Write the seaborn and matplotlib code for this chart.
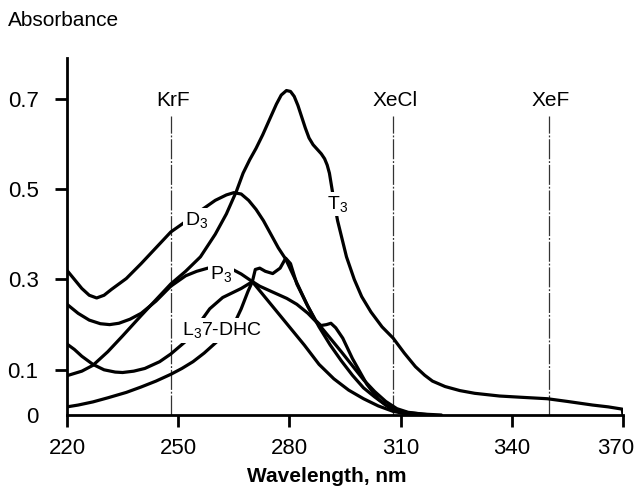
import matplotlib
matplotlib.use("Agg")
import matplotlib.pyplot as plt
import matplotlib.transforms as mtransforms
import seaborn as sns
import pandas as pd

# ---- data (wavelength nm, absorbance) ----
d3_nm = [220, 222, 224, 226, 228, 230, 232, 236, 240, 244, 248, 252, 256, 260, 263, 265, 267, 269, 271,
         273, 275, 277, 279, 281, 283, 285, 288, 291, 294, 297, 300, 303, 306, 309, 312, 316, 321]
d3_abs = [0.32, 0.30, 0.28, 0.265, 0.259, 0.265, 0.278, 0.302, 0.335, 0.37, 0.405, 0.428, 0.452, 0.475,
          0.487, 0.492, 0.489, 0.475, 0.455, 0.43, 0.40, 0.37, 0.345, 0.31, 0.275, 0.24, 0.195, 0.155,
          0.12, 0.088, 0.06, 0.04, 0.022, 0.011, 0.005, 0.002, 0.0]

t3_nm = [220, 224, 227, 231, 235, 240, 244, 248, 252, 256, 260, 263, 265.7, 267.5, 269.3, 271, 272.8,
         274.7, 276.5, 277.8, 279.2, 280.3, 281.3, 282.3, 283.3, 284.3, 285.3, 286.4, 287.5, 288.6, 289.5,
         290.2, 290.8, 291.3, 292, 293, 294.2, 295.4, 297.5, 299.5, 302, 305, 308, 311, 314, 316.5, 318.6,
         322, 326, 330, 336.7, 343, 349.6, 355, 361.8, 366, 369.8, 370]
t3_abs = [0.087, 0.097, 0.11, 0.14, 0.175, 0.22, 0.255, 0.29, 0.318, 0.35, 0.40, 0.445, 0.495, 0.535,
          0.565, 0.59, 0.62, 0.655, 0.688, 0.708, 0.718, 0.716, 0.705, 0.685, 0.66, 0.635, 0.613, 0.598,
          0.588, 0.578, 0.567, 0.553, 0.535, 0.51, 0.475, 0.43, 0.39, 0.35, 0.30, 0.262, 0.228, 0.195,
          0.17, 0.137, 0.107, 0.088, 0.075, 0.063, 0.054, 0.048, 0.042, 0.039, 0.036, 0.03, 0.022, 0.018,
          0.013, 0.0]

p3_nm = [220, 223, 226, 229, 231.5, 234, 237, 240, 244, 248, 252, 255, 258, 261, 264.7, 267, 269.5, 272,
         275.5, 279.3, 282, 285, 288.2, 291, 294, 297, 300, 303, 306, 309, 312, 318]
p3_abs = [0.245, 0.225, 0.21, 0.202, 0.20, 0.203, 0.212, 0.225, 0.252, 0.285, 0.308, 0.318, 0.325, 0.328,
          0.322, 0.312, 0.298, 0.285, 0.272, 0.258, 0.245, 0.225, 0.198, 0.17, 0.14, 0.109, 0.078, 0.052,
          0.03, 0.014, 0.006, 0.0]

l3_nm = [220, 222, 224, 227, 230, 233, 235, 238, 241, 245, 248, 252.3, 255, 258.5, 262, 265, 267, 270,
         272, 275, 278, 281, 284, 288, 292, 296, 300, 304, 308, 312, 316]
l3_abs = [0.157, 0.145, 0.13, 0.112, 0.10, 0.095, 0.094, 0.097, 0.103, 0.118, 0.135, 0.165, 0.195, 0.235,
          0.26, 0.272, 0.28, 0.295, 0.275, 0.245, 0.215, 0.185, 0.155, 0.112, 0.08, 0.055, 0.036, 0.02,
          0.008, 0.002, 0.0]

dhc_nm = [220, 223, 227, 231, 236, 240, 244, 248, 251, 254, 257, 260.4, 263, 265, 267, 268.8, 270, 270.8,
          272, 273.5, 275.5, 277.5, 279, 280.3, 282, 284.7, 287, 288.5, 290, 291.2, 292.5, 294.4, 297,
          300.9, 304, 307, 310, 314]
dhc_abs = [0.018, 0.022, 0.029, 0.038, 0.05, 0.062, 0.075, 0.09, 0.103, 0.118, 0.137, 0.162, 0.185, 0.20,
           0.235, 0.273, 0.295, 0.322, 0.325, 0.318, 0.313, 0.325, 0.347, 0.335, 0.29, 0.245, 0.21, 0.198,
           0.20, 0.203, 0.193, 0.17, 0.125, 0.068, 0.035, 0.016, 0.005, 0.0]

laser_nm = [248, 308, 350]
laser_names = ["KrF", "XeCl", "XeF"]

curve_labels = ["D$_3$", "P$_3$", "T$_3$", "L$_3$7-DHC"]
curve_label_nm = [255.0, 261.5, 293.0, 261.9]
curve_label_abs = [0.432, 0.312, 0.467, 0.187]

x_ticks = [220, 250, 280, 310, 340, 370]
y_ticks = [0, 0.1, 0.3, 0.5, 0.7]
y_tick_labels = ["0", "0.1", "0.3", "0.5", "0.7"]

# ---- styling ----
sns.set_style("white")
plt.rcParams["font.family"] = ["Liberation Sans", "DejaVu Sans"]
plt.rcParams["mathtext.fontset"] = "custom"
plt.rcParams["mathtext.rm"] = "Liberation Sans"
plt.rcParams["mathtext.it"] = "Liberation Sans"
plt.rcParams["mathtext.bf"] = "Liberation Sans:bold"
for k in ["text.color", "axes.labelcolor", "xtick.color", "ytick.color", "axes.edgecolor"]:
    plt.rcParams[k] = "black"

fig = plt.figure(figsize=(6.36, 4.90), dpi=100)
ax = fig.add_axes([67 / 636, 1 - 415 / 490, (623 - 67) / 636, (415 - 58) / 490])

curves = [(d3_nm, d3_abs), (t3_nm, t3_abs), (p3_nm, p3_abs), (l3_nm, l3_abs), (dhc_nm, dhc_abs)]
for nm, ab in curves:
    df = pd.DataFrame({"nm": nm, "abs": ab})
    sns.lineplot(data=df, x="nm", y="abs", color="black", linewidth=2.3, estimator=None,
                 sort=False, ax=ax, solid_capstyle="round", solid_joinstyle="round", zorder=3)

# laser lines
ax.vlines(laser_nm, 0, 0.662, colors="0.2", linewidth=0.9,
          linestyles=[(0, (16, 1.5, 1.5, 1.5))], zorder=2)
for xn, name in zip(laser_nm, laser_names):
    ax.text(xn + 0.5, 0.697, name, ha="center", va="center", fontsize=15)

# curve labels with white background (gaps in curves)
for lab, xn, yv in zip(curve_labels, curve_label_nm, curve_label_abs):
    ax.text(xn, yv, lab, ha="center", va="center", fontsize=14, zorder=5,
            bbox=dict(facecolor="white", edgecolor="none", pad=1.5))

ax.set_xlim(220, 370)
ax.set_ylim(0, 0.79)
ax.set_xticks(x_ticks)
ax.set_xticklabels([str(t) for t in x_ticks])
ax.set_yticks(y_ticks)
ax.set_yticklabels(y_tick_labels)
ax.set_xlabel("")
ax.set_ylabel("")

for s in ["top", "right"]:
    ax.spines[s].set_visible(False)
for s in ["left", "bottom"]:
    ax.spines[s].set_linewidth(2.0)
    ax.spines[s].set_color("black")

ax.tick_params(axis="both", direction="out", length=8.5, width=2.0, colors="black",
               labelsize=16, left=True, bottom=True)
ax.tick_params(axis="y", pad=12)
ax.tick_params(axis="x", pad=8)
ax.yaxis.get_major_ticks()[0].tick1line.set_visible(False)

# nudge last x tick label inward so it stays inside the figure
last = ax.get_xticklabels()[-1]
last.set_transform(last.get_transform() + mtransforms.ScaledTranslation(-7 / 100, 0, fig.dpi_scale_trans))

fig.text(8 / 636, 1 - 20 / 490, "Absorbance", ha="left", va="center", fontsize=15)
fig.text(327 / 636, 1 - 476 / 490, "Wavelength, nm", ha="center", va="center",
         fontsize=15, fontweight="bold")

fig.savefig("out.png", dpi=100)
